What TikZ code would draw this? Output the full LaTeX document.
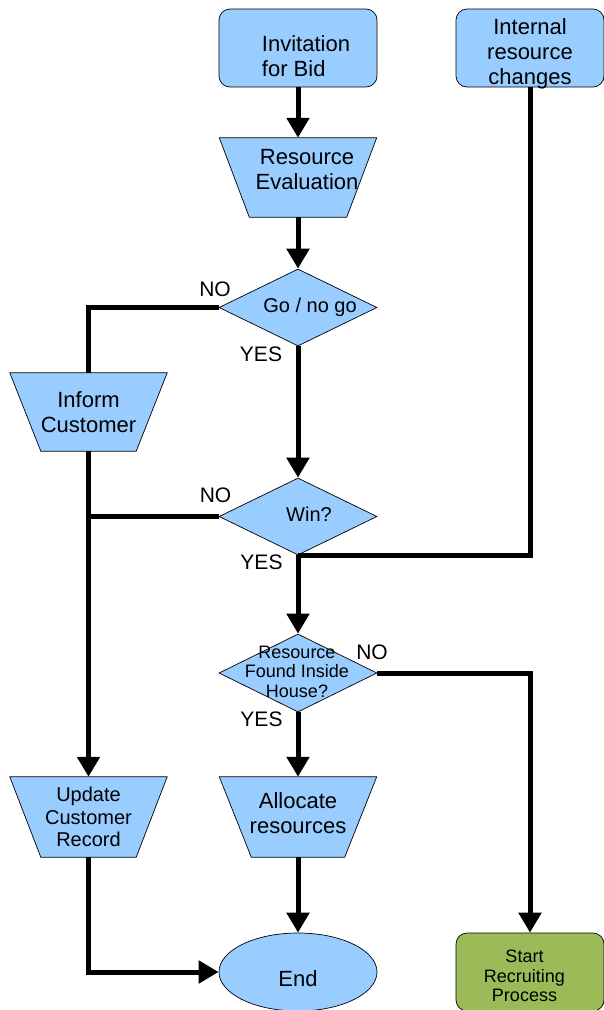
\documentclass[tikz,border=0pt]{standalone}
\usepackage{fontspec}
\setmainfont{Liberation Sans}
\usetikzlibrary{shapes.geometric,arrows.meta,backgrounds}
\definecolor{stepblue}{HTML}{99CCFF}
\definecolor{stepgreen}{HTML}{9BBB59}
\begin{document}
\begin{tikzpicture}[x=1pt,y=-1pt,
  outline/.style={draw=black,line width=0.7pt},
  termbox/.style={outline,fill=stepblue,rectangle,rounded corners=11pt,inner sep=0pt,minimum width=158pt,minimum height=78pt},
  greenbox/.style={termbox,fill=stepgreen,minimum width=148pt},
  trapframe/.style={rectangle,inner sep=0pt,minimum width=157pt,minimum height=80pt},
  choice/.style={outline,fill=stepblue,diamond,inner sep=0pt,minimum width=158pt,minimum height=77pt},
  finish/.style={outline,fill=stepblue,ellipse,inner sep=0pt,minimum width=158pt,minimum height=78pt},
  flow/.style={line width=5pt},
  flowarrow/.style={flow,-{Triangle[width=22pt,length=20pt]}},
  bigtext/.style={align=center,inner sep=0pt,font=\fontsize{22}{25}\selectfont},
  midtext/.style={align=center,inner sep=0pt,font=\fontsize{20}{22.5}\selectfont},
  smalltext/.style={align=center,inner sep=0pt,font=\fontsize{18}{19.5}\selectfont},
  answerlabel/.style={inner sep=0pt,font=\fontsize{21}{24}\selectfont}
]
\useasboundingbox (0,0) rectangle (604,1010);

% start events
\node[termbox,label={[bigtext,align=left,xshift=8pt,yshift=-8.5pt]center:Invitation\\for Bid}] (ifb) at (298,48) {};
\node[termbox,minimum width=148pt,label={[bigtext,yshift=-6pt]center:Internal\\resource\\changes}] (irc) at (530,48) {};

% process steps (trapezoids filled on the background layer)
\node[trapframe,minimum height=79pt,label={[bigtext,xshift=9pt,yshift=8pt]center:Resource\\Evaluation}] (re) at (298,177.5) {};
\node[trapframe,minimum height=78pt,bigtext] (ic) at (88.5,412) {Inform\\Customer};
\node[trapframe,midtext,minimum width=157pt] (ucr) at (88.5,817) {Update\\Customer\\Record};
\node[trapframe,label={[bigtext,yshift=4pt]center:Allocate\\resources}] (ar) at (298,817) {};

% decisions
\node[choice,label={[midtext,xshift=12pt]center:Go / no go}] (gng) at (298,307.5) {};
\node[choice,label={[midtext,xshift=11pt,yshift=2pt]center:Win?}] (win) at (298,516.5) {};
\node[choice,minimum height=78pt,label={[smalltext,xshift=-1pt,yshift=1.5pt]center:Resource\\Found Inside\\House?}] (rfih) at (298,673) {};

% end points
\node[finish,label={[bigtext,yshift=-6.5pt]center:End}] (end) at (298,972) {};
\node[greenbox,label={[smalltext,xshift=-5.5pt,yshift=-4pt]center:Start\\Recruiting\\Process}] (srp) at (530,972) {};

\begin{scope}[on background layer]
  \foreach \n/\d in {re/30,ic/31,ucr/31,ar/32}
    \filldraw[outline,fill=stepblue] (\n.north west) -- (\n.north east)
      -- ([xshift=-\d pt]\n.south east) -- ([xshift=\d pt]\n.south west) -- cycle;
\end{scope}

% connectors
\draw[flowarrow] (ifb.south) -- (re.north);
\draw[flowarrow] (re.south) -- (gng.north);
\draw[flow] (gng.west) -| (ic.north);
\draw[flowarrow] (gng.south) -- (win.north);
\draw[flow] (win.west) -- (win.west -| ic.south);
\draw[flowarrow] (ic.south) -- (ucr.north);
\draw[flow] (irc.south) |- (win.south);
\draw[flowarrow] (win.south) -- (rfih.north);
\draw[flowarrow] (rfih.east) -| (srp.north);
\draw[flowarrow] (rfih.south) -- (ar.north);
\draw[flowarrow] (ar.south) -- (end.north);
\draw[flowarrow] (ucr.south) |- (end.west);

% branch labels
\node[answerlabel] (no1) at (215,289) {NO};
\node[answerlabel] (yes1) at (261,354) {YES};
\node[answerlabel] (no2) at (215.5,495.5) {NO};
\node[answerlabel] (yes2) at (261.5,562.5) {YES};
\node[answerlabel] (no3) at (372,652.5) {NO};
\node[answerlabel] (yes3) at (261.5,719.5) {YES};
\end{tikzpicture}
\end{document}
